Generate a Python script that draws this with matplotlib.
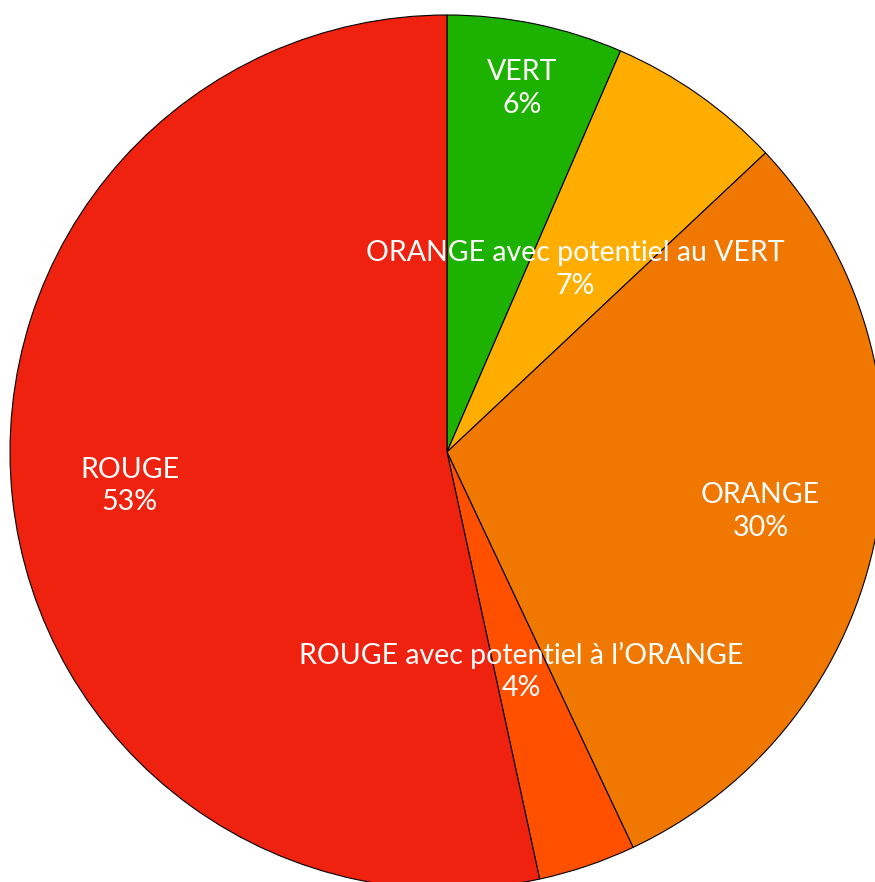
import matplotlib
matplotlib.use("Agg")
import matplotlib.pyplot as plt
import numpy as np

categories = ["VERT", "ORANGE avec potentiel au VERT", "ORANGE",
              "ROUGE avec potentiel à l\u2019ORANGE", "ROUGE"]
values = [6.5, 6.5, 30.0, 3.6, 53.4]
pct_labels = ["6%", "7%", "30%", "4%", "53%"]
colors = ["#1DB100", "#FFAE00", "#F07800", "#FF5000", "#EE220F"]
label_r = [0.85, 0.51, 0.73, 0.53, 0.73]

fig = plt.figure(figsize=(8.75, 8.82), dpi=100)
ax = fig.add_axes([0, 0, 1, 1])
R = 437

wedges, _ = ax.pie(values, colors=colors, startangle=90, counterclock=False,
                   radius=R, center=(0, 0), frame=True,
                   wedgeprops=dict(edgecolor="black", linewidth=0.8))
ax.set_xlim(-447, 428)
ax.set_ylim(-430, 452)
ax.set_aspect("equal")
ax.axis("off")

for w, cat, p, lr in zip(wedges, categories, pct_labels, label_r):
    ang = np.deg2rad((w.theta1 + w.theta2) / 2)
    x, y = lr * R * np.cos(ang), lr * R * np.sin(ang)
    ax.text(x, y, f"{cat}\n{p}", ha="center", va="center", color="white",
            fontsize=20.5, family=["Lato", "DejaVu Sans"], linespacing=1.32)

fig.savefig("out.png", dpi=100)
